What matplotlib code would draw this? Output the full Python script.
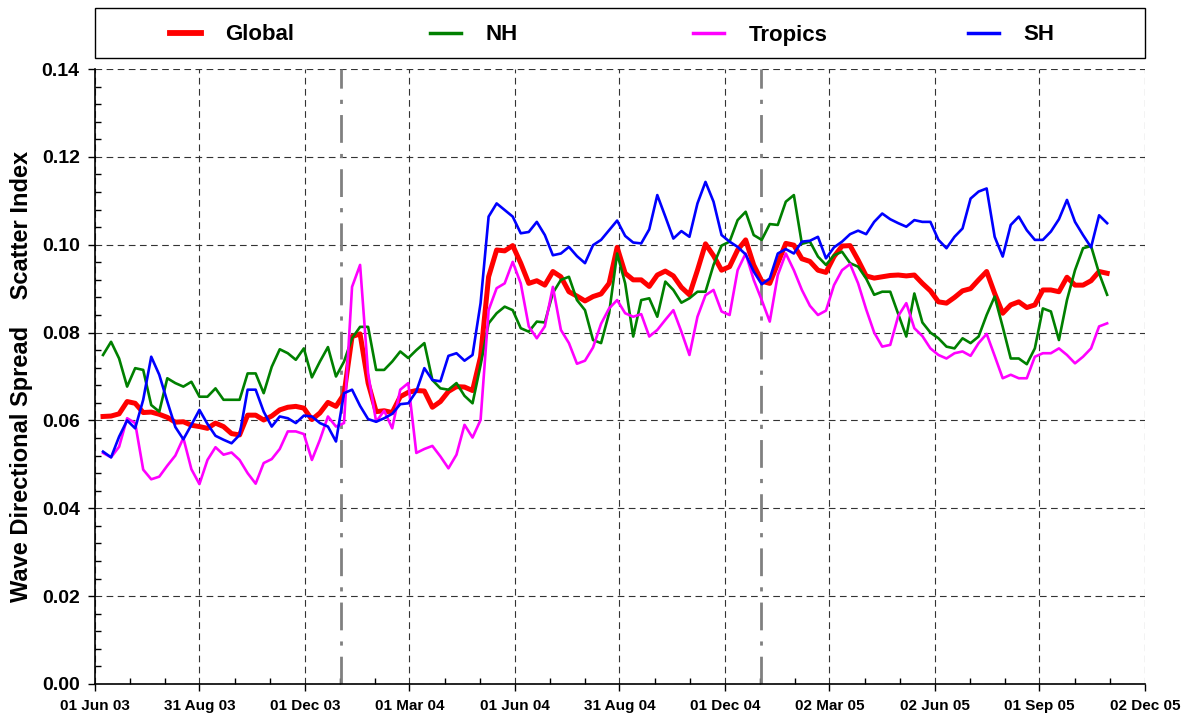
import matplotlib
matplotlib.use("Agg")
import matplotlib.pyplot as plt
import matplotlib.dates as mdates
from matplotlib.patches import Rectangle
from matplotlib.lines import Line2D
import pandas as pd

plt.rcParams['font.family'] = ['Liberation Sans', 'DejaVu Sans']
plt.rcParams['font.weight'] = 'bold'

# weekly samples of the running scatter index
dates = pd.date_range('2003-06-08', periods=126, freq='7D')

global_si = [
    0.0609, 0.0610, 0.0615, 0.0643, 0.0639, 0.0618, 0.0619, 0.0614, 0.0607, 0.0596, 0.0597,
    0.0589, 0.0586, 0.0582, 0.0594, 0.0586, 0.0570, 0.0567, 0.0612, 0.0612, 0.0601,
    0.0610, 0.0624, 0.0630, 0.0632, 0.0628, 0.0602, 0.0617, 0.0641, 0.0632, 0.0660, 0.0791,
    0.0797, 0.0685, 0.0620, 0.0622, 0.0618, 0.0654, 0.0664, 0.0668, 0.0667, 0.0630,
    0.0643, 0.0666, 0.0677, 0.0676, 0.0668, 0.0745, 0.0927, 0.0988, 0.0986, 0.0998, 0.0958,
    0.0912, 0.0918, 0.0908, 0.0939, 0.0927, 0.0893, 0.0883, 0.0872, 0.0882, 0.0888, 0.0912, 0.0994,
    0.0935, 0.0920, 0.0920, 0.0905, 0.0931, 0.0940, 0.0929, 0.0903, 0.0886, 0.0942, 0.1002,
    0.0975, 0.0942, 0.0950, 0.0988, 0.1011, 0.0954, 0.0917, 0.0912, 0.0958, 0.1003, 0.0999,
    0.0968, 0.0962, 0.0942, 0.0937, 0.0973, 0.0997, 0.0998, 0.0965, 0.0929, 0.0924, 0.0927,
    0.0930, 0.0931, 0.0929, 0.0931, 0.0912, 0.0895, 0.0870, 0.0867, 0.0880, 0.0895, 0.0900,
    0.0920, 0.0939, 0.0889, 0.0844, 0.0863, 0.0870, 0.0857, 0.0863, 0.0897, 0.0897, 0.0893,
    0.0926, 0.0908, 0.0908, 0.0918, 0.0939, 0.0935,
]

nh_si = [
    0.0749, 0.0779, 0.0741, 0.0677, 0.0719, 0.0715, 0.0635, 0.0620, 0.0696, 0.0685, 0.0677,
    0.0688, 0.0654, 0.0654, 0.0673, 0.0647, 0.0647, 0.0647, 0.0707, 0.0707, 0.0662,
    0.0722, 0.0762, 0.0753, 0.0738, 0.0764, 0.0698, 0.0734, 0.0767, 0.0700, 0.0734, 0.0787,
    0.0813, 0.0813, 0.0715, 0.0715, 0.0734, 0.0757, 0.0742, 0.0760, 0.0776, 0.0692,
    0.0673, 0.0670, 0.0685, 0.0656, 0.0639, 0.0726, 0.0821, 0.0844, 0.0859, 0.0851, 0.0810,
    0.0802, 0.0825, 0.0823, 0.0890, 0.0920, 0.0927, 0.0874, 0.0851, 0.0783, 0.0776, 0.0844, 0.0980,
    0.0912, 0.0791, 0.0874, 0.0878, 0.0836, 0.0916, 0.0897, 0.0868, 0.0878, 0.0893, 0.0893,
    0.0954, 0.0998, 0.1007, 0.1056, 0.1075, 0.1022, 0.1011, 0.1047, 0.1045, 0.1098, 0.1113,
    0.1002, 0.1007, 0.0973, 0.0954, 0.0976, 0.0984, 0.0958, 0.0950, 0.0923, 0.0886, 0.0893,
    0.0893, 0.0842, 0.0791, 0.0889, 0.0823, 0.0800, 0.0787, 0.0768, 0.0764, 0.0787, 0.0776,
    0.0791, 0.0840, 0.0882, 0.0813, 0.0741, 0.0741, 0.0728, 0.0764, 0.0855, 0.0848, 0.0783,
    0.0874, 0.0942, 0.0992, 0.0997, 0.0935, 0.0886,
]

tropics_si = [
    0.0526, 0.0516, 0.0540, 0.0605, 0.0594, 0.0488, 0.0466, 0.0472, 0.0497, 0.0520, 0.0560,
    0.0489, 0.0455, 0.0510, 0.0539, 0.0522, 0.0527, 0.0510, 0.0480, 0.0456, 0.0503,
    0.0512, 0.0535, 0.0575, 0.0575, 0.0569, 0.0510, 0.0556, 0.0609, 0.0586, 0.0594, 0.0904,
    0.0954, 0.0707, 0.0597, 0.0622, 0.0582, 0.0670, 0.0685, 0.0526, 0.0535, 0.0542,
    0.0518, 0.0491, 0.0522, 0.0590, 0.0561, 0.0601, 0.0851, 0.0901, 0.0912, 0.0961, 0.0912,
    0.0814, 0.0787, 0.0814, 0.0904, 0.0806, 0.0776, 0.0729, 0.0736, 0.0766, 0.0820, 0.0855, 0.0874,
    0.0844, 0.0836, 0.0842, 0.0791, 0.0806, 0.0829, 0.0851, 0.0802, 0.0749, 0.0836, 0.0885,
    0.0897, 0.0848, 0.0840, 0.0942, 0.0980, 0.0920, 0.0874, 0.0825, 0.0931, 0.0980, 0.0942,
    0.0897, 0.0861, 0.0840, 0.0850, 0.0908, 0.0942, 0.0956, 0.0912, 0.0853, 0.0800, 0.0768,
    0.0772, 0.0838, 0.0867, 0.0810, 0.0792, 0.0764, 0.0749, 0.0741, 0.0753, 0.0757, 0.0747,
    0.0776, 0.0797, 0.0747, 0.0696, 0.0704, 0.0696, 0.0696, 0.0745, 0.0753, 0.0753, 0.0764,
    0.0749, 0.0730, 0.0745, 0.0764, 0.0814, 0.0821,
]

sh_si = [
    0.0529, 0.0516, 0.0563, 0.0600, 0.0582, 0.0647, 0.0745, 0.0704, 0.0643, 0.0585, 0.0557,
    0.0590, 0.0624, 0.0592, 0.0565, 0.0556, 0.0548, 0.0567, 0.0670, 0.0670, 0.0620,
    0.0586, 0.0609, 0.0605, 0.0594, 0.0611, 0.0609, 0.0594, 0.0586, 0.0552, 0.0662, 0.0670,
    0.0633, 0.0603, 0.0597, 0.0605, 0.0615, 0.0637, 0.0639, 0.0666, 0.0719, 0.0692,
    0.0689, 0.0747, 0.0753, 0.0736, 0.0749, 0.0867, 0.1064, 0.1094, 0.1079, 0.1064, 0.1026,
    0.1029, 0.1052, 0.1022, 0.0976, 0.0980, 0.0995, 0.0974, 0.0958, 0.0999, 0.1011, 0.1033, 0.1055,
    0.1020, 0.1005, 0.1003, 0.1035, 0.1113, 0.1064, 0.1014, 0.1031, 0.1018, 0.1094, 0.1143,
    0.1098, 0.1022, 0.1007, 0.0995, 0.0978, 0.0939, 0.0910, 0.0923, 0.0980, 0.0990, 0.0980,
    0.1007, 0.1009, 0.1018, 0.0969, 0.0994, 0.1007, 0.1024, 0.1032, 0.1024, 0.1052, 0.1071,
    0.1058, 0.1049, 0.1041, 0.1056, 0.1052, 0.1052, 0.1011, 0.0992, 0.1018, 0.1037, 0.1105,
    0.1121, 0.1128, 0.1018, 0.0973, 0.1045, 0.1064, 0.1033, 0.1011, 0.1011, 0.1030, 0.1058,
    0.1102, 0.1052, 0.1022, 0.0994, 0.1067, 0.1049,
]

series_names = ['Global', 'NH', 'Tropics', 'SH']
series_colors = ['#FF0000', '#008000', '#FF00FF', '#0000FF']
series_widths = [3.6, 1.9, 1.9, 1.9]
series_values = [global_si, nh_si, tropics_si, sh_si]

tick_dates = pd.to_datetime(['2003-06-01', '2003-08-31', '2003-12-01', '2004-03-01',
                             '2004-06-01', '2004-08-31', '2004-12-01', '2005-03-02',
                             '2005-06-02', '2005-09-01', '2005-12-02'])
tick_labels = ['01 Jun 03', '31 Aug 03', '01 Dec 03', '01 Mar 04', '01 Jun 04', '31 Aug 04',
               '01 Dec 04', '02 Mar 05', '02 Jun 05', '01 Sep 05', '02 Dec 05']
year_marks = pd.to_datetime(['2004-01-01', '2005-01-01'])
y_ticks = [0.00, 0.02, 0.04, 0.06, 0.08, 0.10, 0.12, 0.14]

fig = plt.figure(figsize=(11.89, 7.2), dpi=100)
ax = fig.add_axes([95 / 1189, 1 - 684 / 720, 1050 / 1189, 615 / 720])

for name, vals, col, lw in zip(series_names, series_values, series_colors, series_widths):
    ax.plot(dates, vals, color=col, lw=lw, label=name, solid_joinstyle='round', zorder=3)

for d in year_marks:
    ax.axvline(d, color='#808080', lw=2.0, ls=(0, (10, 4, 1.5, 4)), zorder=2)

ax.set_xlim(tick_dates[0], tick_dates[-1])
ax.set_ylim(0, 0.14)

ax.set_xticks(tick_dates)
ax.set_xticklabels(tick_labels, fontsize=11, fontweight='bold')
tick_nums = mdates.date2num(tick_dates)
minor = []
for a, b in zip(tick_nums[:-1], tick_nums[1:]):
    minor += [a + (b - a) / 3, a + 2 * (b - a) / 3]
ax.set_xticks(minor, minor=True)

ax.set_yticks(y_ticks)
ax.set_yticklabels(['%.2f' % v for v in y_ticks], fontsize=14, fontweight='bold')
ax.set_yticks([i * 0.004 for i in range(36)], minor=True)

ax.tick_params(which='major', direction='out', length=5, width=1, pad=6)
ax.tick_params(which='minor', direction='in', length=4, width=1)

ax.grid(True, which='major', color='#333333', ls=(0, (6, 4)), lw=0.8)
for s in ['top', 'right']:
    ax.spines[s].set_visible(False)
for s in ['left', 'bottom']:
    ax.spines[s].set_linewidth(1.2)
    ax.spines[s].set_color('black')

ax.set_ylabel('Wave Directional Spread    Scatter Index', fontsize=17, fontweight='bold',
              labelpad=6)

# legend frame above the plot
fig.patches.append(Rectangle((95 / 1189, 1 - 58 / 720), 1050 / 1189, 50 / 720,
                             transform=fig.transFigure, fill=False, ec='black', lw=1.0))
handle_x = [170, 430, 693, 968]
for name, col, lw, hx in zip(series_names, series_colors, series_widths, handle_x):
    h = Line2D([], [], color=col, lw=lw + 0.6)
    fig.legend([h], [name], loc='center left', bbox_to_anchor=(hx / 1189, 1 - 35 / 720),
               frameon=False, handlelength=1.4, handletextpad=1.1,
               borderpad=0, borderaxespad=0, prop={'weight': 'bold', 'size': 16})

fig.savefig('out.png', dpi=100)
